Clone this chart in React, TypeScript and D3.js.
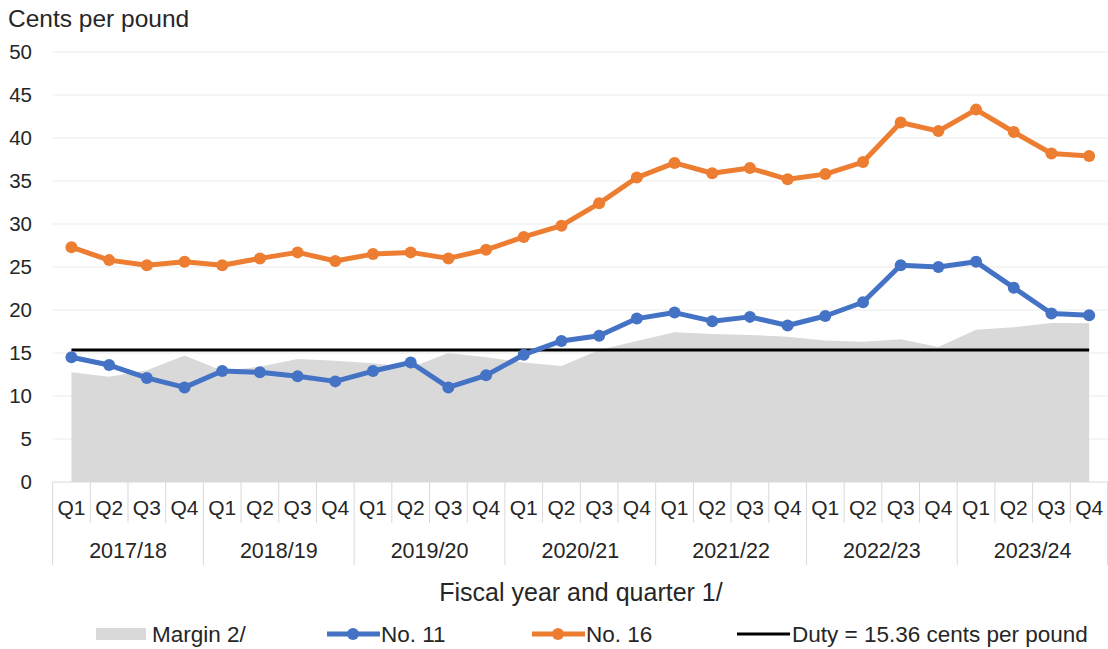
import React from "react";
import * as d3 from "d3";

const years = ["2017/18", "2018/19", "2019/20", "2020/21", "2021/22", "2022/23", "2023/24"];
const quarters = ["Q1", "Q2", "Q3", "Q4"];
const yTicks = [0, 5, 10, 15, 20, 25, 30, 35, 40, 45, 50];

const no11 = [14.5, 13.6, 12.1, 11.0, 12.9, 12.75, 12.3, 11.7, 12.9, 13.9, 11.0, 12.4, 14.8, 16.4, 17.0, 19.0, 19.7, 18.7, 19.2, 18.2, 19.3, 20.9, 25.2, 25.0, 25.6, 22.6, 19.6, 19.4];
const no16 = [27.3, 25.8, 25.2, 25.6, 25.2, 26.0, 26.7, 25.7, 26.5, 26.7, 26.0, 27.0, 28.5, 29.8, 32.4, 35.4, 37.1, 35.9, 36.5, 35.2, 35.8, 37.2, 41.8, 40.8, 43.3, 40.7, 38.2, 37.9];
const margin = [12.75, 12.25, 13.0, 14.7, 12.95, 13.4, 14.3, 14.1, 13.8, 13.3, 15.0, 14.5, 13.9, 13.5, 15.35, 16.4, 17.4, 17.2, 17.1, 16.9, 16.45, 16.3, 16.6, 15.7, 17.7, 18.0, 18.5, 18.45];
const duty = 15.36;

const W = 1108;
const H = 649;
const FONT = "'Liberation Sans', Arial, sans-serif";
const BLUE = "#4472C4";
const ORANGE = "#ED7D31";
const GRAY = "#D9D9D9";

export default function App() {
  const cats = d3.range(years.length * quarters.length);
  const x = d3.scaleBand<number>().domain(cats).range([52.6, 1108]).padding(0);
  const y = d3.scaleLinear().domain([0, 50]).range([482, 52]);
  const cx = (i: number) => (x(i) as number) + x.bandwidth() / 2;

  const area = d3
    .area<number>()
    .x((_, i) => cx(i))
    .y0(y(0))
    .y1((d) => y(d));
  const line = d3
    .line<number>()
    .x((_, i) => cx(i))
    .y((d) => y(d));

  const axisY = y(0);
  const qTickEnd = 523;
  const yearTickEnd = 565;

  return (
    <div style={{ position: "absolute", left: 0, top: 0 }}>
      <svg width={W} height={H} style={{ display: "block", background: "#fff" }} fontFamily={FONT}>
        <text x={8} y={27} fontSize={24.5} fill="#262626">
          Cents per pound
        </text>
        {yTicks.map((t) => (
          <g key={t}>
            {t > 0 && (
              <line x1={52.6} x2={1108} y1={y(t)} y2={y(t)} stroke="#EBEBEB" strokeWidth={1.2} />
            )}
            <text x={32} y={y(t)} dy="0.35em" textAnchor="end" fontSize={20.5} fill="#262626">
              {t}
            </text>
          </g>
        ))}

        <path d={area(margin) || ""} fill={GRAY} />

        <line x1={cx(0)} x2={cx(cats.length - 1)} y1={y(duty)} y2={y(duty)} stroke="#000" strokeWidth={3} />

        <path d={line(no11) || ""} fill="none" stroke={BLUE} strokeWidth={5} strokeLinejoin="round" />
        {no11.map((d, i) => (
          <circle key={"b" + i} cx={cx(i)} cy={y(d)} r={6} fill={BLUE} />
        ))}
        <path d={line(no16) || ""} fill="none" stroke={ORANGE} strokeWidth={5} strokeLinejoin="round" />
        {no16.map((d, i) => (
          <circle key={"o" + i} cx={cx(i)} cy={y(d)} r={6} fill={ORANGE} />
        ))}

        {/* category axis */}
        <line x1={52.6} x2={1108} y1={axisY} y2={axisY} stroke={GRAY} strokeWidth={1} />
        {d3.range(cats.length + 1).map((i) => {
          const xx = i < cats.length ? (x(i) as number) : 1107.5;
          const isYear = i % quarters.length === 0;
          return (
            <line
              key={"t" + i}
              x1={xx}
              x2={xx}
              y1={axisY}
              y2={isYear ? yearTickEnd : qTickEnd}
              stroke={GRAY}
              strokeWidth={1}
            />
          );
        })}
        {cats.map((i) => (
          <text key={"q" + i} x={cx(i)} y={508} dy="0.35em" textAnchor="middle" fontSize={21} fill="#262626">
            {quarters[i % quarters.length]}
          </text>
        ))}
        {years.map((yr, k) => {
          const x0 = x(k * 4) as number;
          const x1 = (x(k * 4 + 3) as number) + x.bandwidth();
          return (
            <text key={yr} x={(x0 + x1) / 2} y={550} dy="0.35em" textAnchor="middle" fontSize={21.5} fill="#262626">
              {yr}
            </text>
          );
        })}
        <text x={581} y={592} dy="0.35em" textAnchor="middle" fontSize={25} fill="#262626">
          Fiscal year and quarter 1/
        </text>

        {/* legend */}
        <g fontSize={22.5} fill="#262626">
          <rect x={96} y={628} width={50} height={12} fill={GRAY} />
          <text x={152} y={634} dy="0.35em">Margin 2/</text>

          <line x1={327} x2={380} y1={634} y2={634} stroke={BLUE} strokeWidth={5} />
          <circle cx={353} cy={634} r={6} fill={BLUE} />
          <text x={381} y={634} dy="0.35em">No. 11</text>

          <line x1={532} x2={585} y1={634} y2={634} stroke={ORANGE} strokeWidth={5} />
          <circle cx={558} cy={634} r={6} fill={ORANGE} />
          <text x={586} y={634} dy="0.35em">No. 16</text>

          <line x1={737} x2={790} y1={634} y2={634} stroke="#000" strokeWidth={3} />
          <text x={792} y={634} dy="0.35em">Duty = 15.36 cents per pound</text>
        </g>
      </svg>
    </div>
  );
}
